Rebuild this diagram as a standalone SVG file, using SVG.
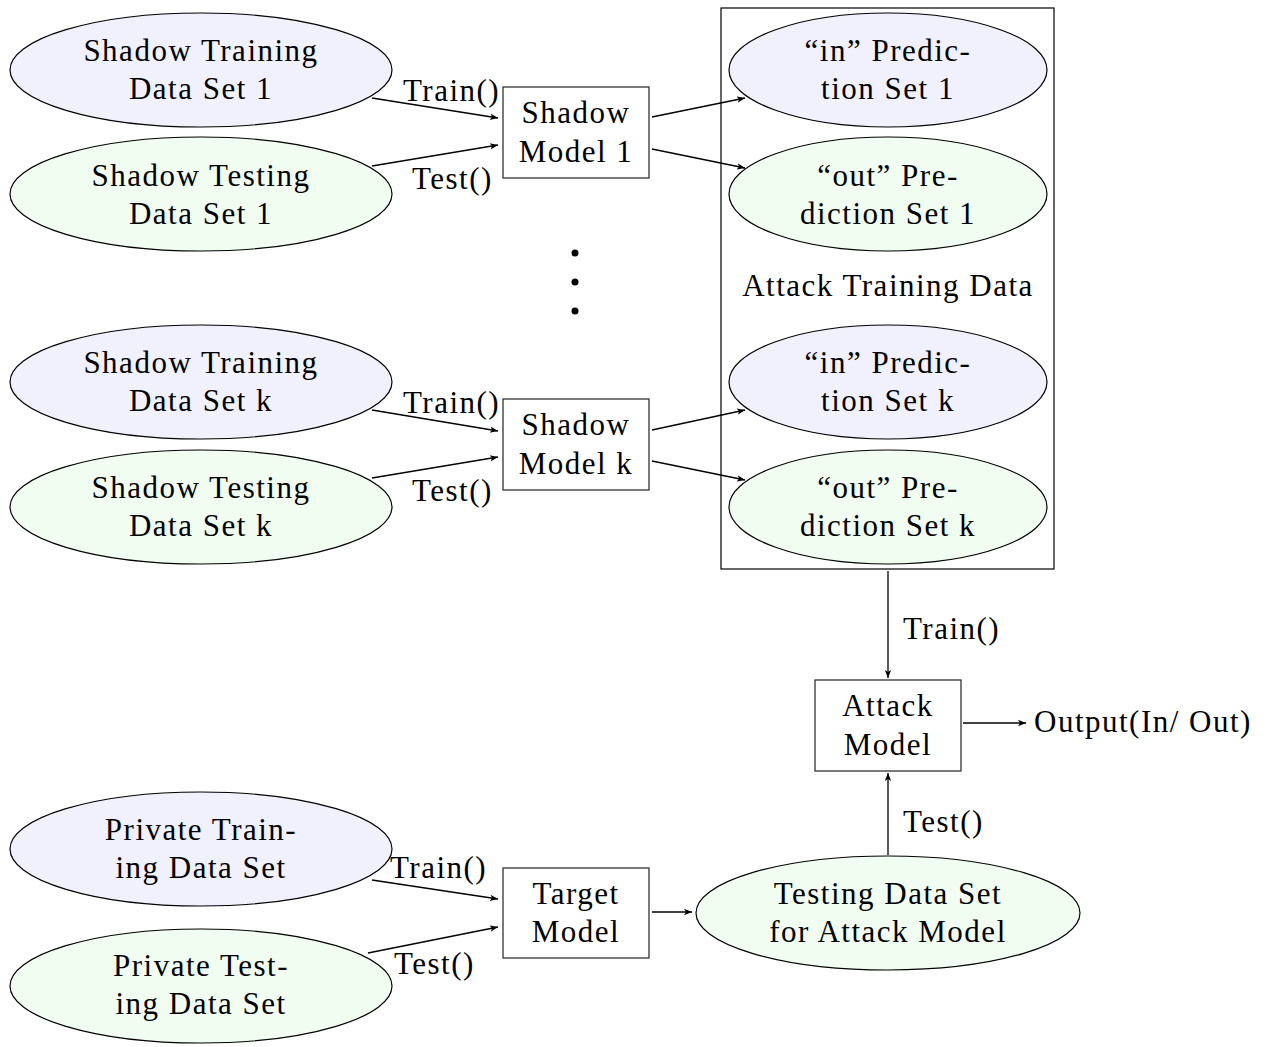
<svg xmlns="http://www.w3.org/2000/svg" width="1285" height="1047" viewBox="0 0 1285 1047">
<style>
text{font-family:"Liberation Serif","Times New Roman",serif;font-size:31px;letter-spacing:1.5px;fill:#000;text-anchor:middle}
.lbl{text-anchor:start}
.tr{fill:#f1f1fd;stroke:#000;stroke-width:1.2}
.te{fill:#f2fdf2;stroke:#000;stroke-width:1.2}
.box{fill:#fff;stroke:#333;stroke-width:1.3}
.c{stroke:#000;stroke-width:1.3;fill:none;marker-end:url(#ah)}
</style>
<defs>
<marker id="ah" viewBox="0 0 10 10" refX="10" refY="5" markerWidth="8" markerHeight="8" markerUnits="userSpaceOnUse" orient="auto">
<path d="M0,1 L10,5 L0,9 L2.5,5 Z" fill="#000"/>
</marker>
</defs>
<rect width="1285" height="1047" fill="#fff"/>
<g id="attack-training-data">
<rect x="721" y="8" width="333" height="561" fill="none" stroke="#000" stroke-width="1.2"/>
<text x="888" y="296">Attack Training Data</text>
</g>
<g id="shadow-train-1"><ellipse class="tr" cx="201" cy="70" rx="191" ry="57"/><text x="201" y="61">Shadow Training</text><text x="201" y="99">Data Set 1</text></g>
<g id="shadow-test-1"><ellipse class="te" cx="201" cy="194" rx="191" ry="57"/><text x="201" y="186">Shadow Testing</text><text x="201" y="224">Data Set 1</text></g>
<g id="shadow-model-1"><rect class="box" x="503" y="87" width="146" height="91"/><text x="576" y="123">Shadow</text><text x="576" y="162">Model 1</text></g>
<g id="in-set-1"><ellipse class="tr" cx="888" cy="70" rx="159" ry="57"/><text x="888" y="61">“in” Predic-</text><text x="888" y="99">tion Set 1</text></g>
<g id="out-set-1"><ellipse class="te" cx="888" cy="194" rx="159" ry="57"/><text x="888" y="186">“out” Pre-</text><text x="888" y="224">diction Set 1</text></g>
<g id="dots"><circle cx="575" cy="253" r="3.5"/><circle cx="575" cy="282" r="3.5"/><circle cx="575" cy="311" r="3.5"/></g>
<g id="shadow-train-k"><ellipse class="tr" cx="201" cy="382" rx="191" ry="57"/><text x="201" y="373">Shadow Training</text><text x="201" y="411">Data Set k</text></g>
<g id="shadow-test-k"><ellipse class="te" cx="201" cy="507" rx="191" ry="57"/><text x="201" y="498">Shadow Testing</text><text x="201" y="536">Data Set k</text></g>
<g id="shadow-model-k"><rect class="box" x="503" y="399" width="146" height="91"/><text x="576" y="435">Shadow</text><text x="576" y="474">Model k</text></g>
<g id="in-set-k"><ellipse class="tr" cx="888" cy="382" rx="159" ry="57"/><text x="888" y="373">“in” Predic-</text><text x="888" y="411">tion Set k</text></g>
<g id="out-set-k"><ellipse class="te" cx="888" cy="507" rx="159" ry="57"/><text x="888" y="498">“out” Pre-</text><text x="888" y="536">diction Set k</text></g>
<g id="attack-model"><rect class="box" x="815" y="680" width="146" height="91"/><text x="888" y="716">Attack</text><text x="888" y="755">Model</text></g>
<g id="output"><text class="lbl" x="1034" y="732">Output(In/ Out)</text></g>
<g id="private-train"><ellipse class="tr" cx="201" cy="849" rx="191" ry="57"/><text x="201" y="840">Private Train-</text><text x="201" y="878">ing Data Set</text></g>
<g id="private-test"><ellipse class="te" cx="201" cy="986" rx="191" ry="57"/><text x="201" y="976">Private Test-</text><text x="201" y="1014">ing Data Set</text></g>
<g id="target-model"><rect class="box" x="503" y="868" width="146" height="90"/><text x="576" y="904">Target</text><text x="576" y="942">Model</text></g>
<g id="testing-attack"><ellipse class="te" cx="888" cy="913" rx="192" ry="57"/><text x="888" y="904">Testing Data Set</text><text x="888" y="942">for Attack Model</text></g>
<g id="connectors">
<path class="c" d="M372,98 L498,118"/>
<path class="c" d="M372,166 L498,145"/>
<path class="c" d="M652,117 L745,98"/>
<path class="c" d="M652,149 L745,168"/>
<path class="c" d="M372,410 L498,431"/>
<path class="c" d="M372,478 L498,457"/>
<path class="c" d="M652,430 L745,410"/>
<path class="c" d="M652,461 L745,480"/>
<path class="c" d="M888,571 L888,678"/>
<path class="c" d="M963,723 L1026,723"/>
<path class="c" d="M888,855 L888,773"/>
<path class="c" d="M372,880 L498,899"/>
<path class="c" d="M368,953 L498,927"/>
<path class="c" d="M652,912 L692,912"/>
<text class="lbl" x="403" y="101">Train()</text>
<text class="lbl" x="412" y="189">Test()</text>
<text class="lbl" x="403" y="413">Train()</text>
<text class="lbl" x="412" y="501">Test()</text>
<text class="lbl" x="903" y="639">Train()</text>
<text class="lbl" x="903" y="832">Test()</text>
<text class="lbl" x="390" y="878">Train()</text>
<text class="lbl" x="394" y="974">Test()</text>
</g>
</svg>
